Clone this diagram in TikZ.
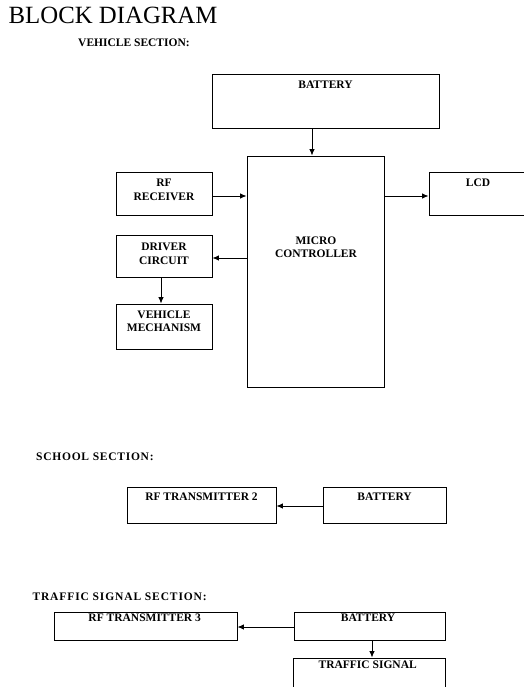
\documentclass[tikz,border=0pt]{standalone}
\usepackage{fontspec}
\setmainfont{Liberation Serif}
\usetikzlibrary{arrows.meta,calc}
\tikzset{
  box/.style={draw=black, line width=0.9pt, rectangle, inner sep=0pt},
  lbl/.style={anchor=base, inner sep=0pt, font=\fontsize{11.5}{14}\selectfont\bfseries, align=center},
  head/.style={anchor=base west, inner sep=0pt, font=\fontsize{11.5}{14}\selectfont\bfseries},
  arr/.style={draw=black, line width=0.9pt, -{Latex[length=6.5pt,width=5.5pt]}}
}
\begin{document}
\begin{tikzpicture}[x=1pt,y=-1pt]
\useasboundingbox (0,0) rectangle (523,687);
% title
\node[anchor=base west, inner sep=0pt, font=\fontsize{24.8}{28}\selectfont] (title) at (8.5,24) {BLOCK DIAGRAM};
% vehicle section
\node[head] (vsec) at (78,47) {VEHICLE SECTION:};
\node[box, minimum width=227pt, minimum height=54pt] (vbat) at (325.5,101) {};
\node[lbl] (vbatt) at (325.5,89) {BATTERY};
\node[box, minimum width=137pt, minimum height=231pt] (mc) at (315.5,271.5) {};
\node[lbl] (mct) at (316,257.5) {MICRO\\[-0.6pt]CONTROLLER};
\node[box, minimum width=96pt, minimum height=43pt] (rf) at (164,193.5) {};
\node[lbl] (rft) at (164,200) {RF\\[-0.6pt]RECEIVER};
\node[box, minimum width=98pt, minimum height=43pt] (lcd) at (478,193.5) {};
\node[lbl] (lcdt) at (478,186) {LCD};
\node[box, minimum width=96pt, minimum height=42pt] (drv) at (164,256) {};
\node[lbl] (drvt) at (164,264.3) {DRIVER\\[-0.6pt]CIRCUIT};
\node[box, minimum width=96pt, minimum height=45pt] (vm) at (164,326.5) {};
\node[lbl] (vmt) at (164,331.7) {VEHICLE\\[-0.6pt]MECHANISM};
\draw[arr] ([xshift=-13.5pt]vbat.south) -- ([xshift=-13.5pt]vbat.south |- mc.north);
\draw[arr] ([yshift=-2.5pt]rf.east) -- ([yshift=-2.5pt]rf.east -| mc.west);
\draw[arr] ([yshift=-2.5pt]lcd.west -| mc.east) -- ([yshift=-2.5pt]lcd.west);
\draw[arr] ([yshift=-2pt]drv.east -| mc.west) -- ([yshift=-2pt]drv.east);
\draw[arr] ([xshift=-3pt]drv.south) -- ([xshift=-3pt]vm.north);
% school section
\node[head, font=\fontsize{11.5}{14}\selectfont\bfseries\addfontfeatures{LetterSpace=6.5}] (ssec) at (36,460.7) {SCHOOL SECTION:};
\node[box, minimum width=149pt, minimum height=36pt] (rf2) at (201.5,505) {};
\node[lbl] (rf2t) at (201.5,500.7) {RF TRANSMITTER 2};
\node[box, minimum width=123pt, minimum height=36pt] (sbat) at (384.5,505) {};
\node[lbl] (sbatt) at (384.6,500.7) {BATTERY};
\draw[arr] ([yshift=-1pt]sbat.west) -- ([yshift=-1pt]rf2.east);
% traffic section
\node[head, font=\fontsize{11.5}{14}\selectfont\bfseries\addfontfeatures{LetterSpace=7.7}] (tsec) at (32.3,600) {TRAFFIC SIGNAL SECTION:};
\node[box, minimum width=183pt, minimum height=28pt] (rf3) at (145.5,626) {};
\node[lbl] (rf3t) at (144.7,621) {RF TRANSMITTER 3};
\node[box, minimum width=151pt, minimum height=28pt] (tbat) at (369.5,626) {};
\node[lbl] (tbatt) at (368,621) {BATTERY};
\node[box, minimum width=152pt, minimum height=40pt] (ts) at (369,678) {};
\node[lbl] (tst) at (367.7,668.3) {TRAFFIC SIGNAL};
\draw[arr] ([yshift=-1pt]tbat.west) -- ([yshift=-1pt]rf3.east);
\draw[arr] ([xshift=2.5pt]tbat.south) -- ([xshift=2.5pt]tbat.south |- ts.north);
\end{tikzpicture}
\end{document}
